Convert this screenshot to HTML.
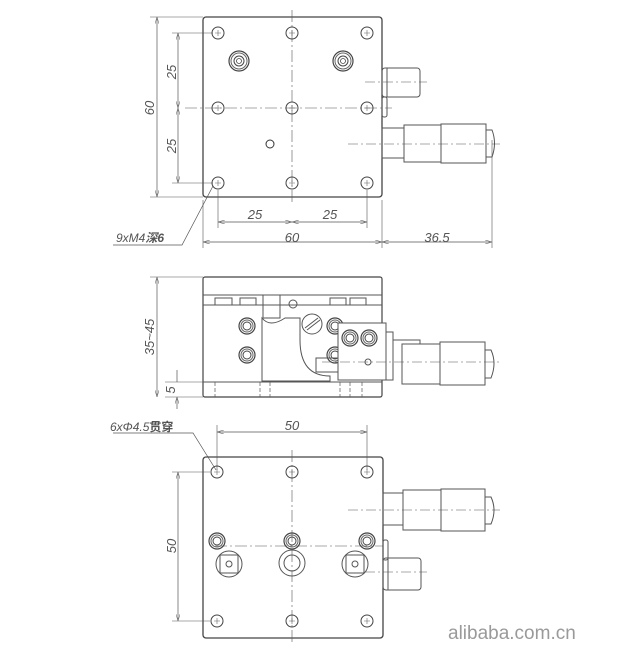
<!DOCTYPE html>
<html><head><meta charset="utf-8"><style>
html,body{margin:0;padding:0;background:#fff}
svg{display:block}
text{font-family:"Liberation Sans","Noto Sans CJK SC",sans-serif;font-style:italic;fill:#555}
</style></head><body>
<svg width="630" height="660" viewBox="0 0 630 660" xmlns="http://www.w3.org/2000/svg">
<defs>
<marker id="a" viewBox="0 0 10 6" refX="10" refY="3" markerWidth="10" markerHeight="6" orient="auto-start-reverse"><path d="M0,0L10,3L0,6" fill="none" stroke="#666" stroke-width="0.8"/></marker>
<g id="hole"><circle r="6" fill="none" stroke="#444" stroke-width="1"/><path d="M-3,0H3M0,-3V3" stroke="#666" stroke-width="0.6"/></g>
<g id="cb"><circle r="10" fill="none" stroke="#444" stroke-width="1.2"/><circle r="8" fill="none" stroke="#666" stroke-width="1"/><circle r="5" fill="none" stroke="#444" stroke-width="1"/><circle r="2.5" fill="none" stroke="#444" stroke-width="0.8"/></g>
<g id="scr"><circle r="8" fill="none" stroke="#444" stroke-width="1.2"/><circle r="6" fill="none" stroke="#666"/><circle r="4" fill="none" stroke="#444"/></g>
</defs>
<g fill="none" stroke="#555" stroke-width="1">
<rect x="203" y="17" width="179" height="180" rx="3" stroke="#444" stroke-width="1.3"/>
<path d="M292,10V205M185,108H392" stroke-dasharray="12,3,2,3" stroke-width="0.6"/>
<rect x="382" y="68" width="38" height="29" rx="3"/><path d="M387,68V97"/>
<path d="M365,82H427" stroke-dasharray="10,3,2,3" stroke-width="0.6"/>
<rect x="382" y="97" width="5" height="20" rx="2"/>
<rect x="382" y="128" width="22" height="30"/>
<rect x="404" y="125" width="37" height="37"/>
<rect x="441" y="124" width="45" height="39"/>
<path d="M486,130H492Q497,143 492,157H486Z"/>
<path d="M348,144H500" stroke-dasharray="10,3,2,3" stroke-width="0.6"/>
<circle cx="270" cy="144" r="4" stroke="#333"/>
<path d="M157,17V197" marker-start="url(#a)" marker-end="url(#a)" stroke-width="0.7"/>
<path d="M150,17H203M150,197H203M172,33H213M172,183H213" stroke-width="0.6"/>
<path d="M178,33V108" marker-start="url(#a)" marker-end="url(#a)" stroke-width="0.7"/>
<path d="M178,108V183" marker-start="url(#a)" marker-end="url(#a)" stroke-width="0.7"/>
<path d="M218,190V228M367,190V228M203,200V248M382,200V248M492,140V248" stroke-width="0.6"/>
<path d="M218,222H292" marker-start="url(#a)" marker-end="url(#a)" stroke-width="0.7"/>
<path d="M292,222H367" marker-start="url(#a)" marker-end="url(#a)" stroke-width="0.7"/>
<path d="M203,242H382" marker-start="url(#a)" marker-end="url(#a)" stroke-width="0.7"/>
<path d="M382,242H492" marker-start="url(#a)" marker-end="url(#a)" stroke-width="0.7"/>
<path d="M113,245H182L213,186" stroke-width="0.7"/>
<rect x="203" y="277" width="179" height="120" rx="2" stroke="#444" stroke-width="1.2"/>
<path d="M203,295H382M203,305H382M203,382H382"/>
<path d="M215,382V397M260,382V397M270,382V397M340,382V397M350,382V397M362,382V397" stroke-dasharray="4,2" stroke-width="0.7"/>
<path d="M215,305V298H232V305M240,305V298H256V305M330,305V298H346V305M350,305V298H366V305"/>
<path d="M263,295V318H280V295"/>
<circle cx="293" cy="304" r="4"/>
<path d="M262,318Q270,328 285,318L300,318V340Q300,376 330,376V381H262V330Z"/>
<circle cx="312" cy="324" r="10"/><path d="M305,328L318,318M307,330L320,320"/>
<use href="#scr" x="247" y="326"/><use href="#scr" x="247" y="355"/>
<use href="#scr" x="335" y="326"/><use href="#scr" x="335" y="355"/>
<rect x="338" y="323" width="48" height="57" fill="#fff"/>
<use href="#scr" x="350" y="338"/><use href="#scr" x="369" y="338"/>
<circle cx="368" cy="362" r="3"/>
<path d="M316,358H338V372H316Z"/>
<path d="M386,332H393V380H386M393,340H420V370"/>
<rect x="402" y="344" width="38" height="40" fill="#fff"/>
<rect x="440" y="342" width="45" height="43"/>
<path d="M485,350H491Q497,363 491,378H485Z"/>
<path d="M322,362H500" stroke-dasharray="10,3,2,3" stroke-width="0.6"/>
<path d="M157,277V397" marker-start="url(#a)" marker-end="url(#a)" stroke-width="0.7"/>
<path d="M150,277H203M165,382H203M165,397H203" stroke-width="0.6"/>
<path d="M177,370V382M177,409V397" marker-end="url(#a)" stroke-width="0.7"/>
<rect x="203" y="457" width="180" height="181" rx="3" stroke="#444" stroke-width="1.3"/>
<path d="M292,450V645M215,546H383" stroke-dasharray="12,3,2,3" stroke-width="0.6"/>
<rect x="383" y="493" width="20" height="32"/>
<rect x="403" y="490" width="38" height="40"/>
<rect x="441" y="489" width="44" height="42"/>
<path d="M485,497H491Q497,510 491,524H485Z"/>
<path d="M348,510H500" stroke-dasharray="10,3,2,3" stroke-width="0.6"/>
<rect x="383" y="540" width="5" height="20" rx="2"/>
<rect x="383" y="558" width="38" height="32" rx="3"/><path d="M388,558V590"/>
<path d="M365,572H427" stroke-dasharray="10,3,2,3" stroke-width="0.6"/>
<use href="#scr" x="217" y="541"/><use href="#scr" x="292" y="541"/><use href="#scr" x="367" y="541"/>
<circle cx="229" cy="564" r="13"/><rect x="220" y="555" width="18" height="18"/><circle cx="229" cy="564" r="3"/>
<circle cx="355" cy="564" r="13"/><rect x="346" y="555" width="18" height="18"/><circle cx="355" cy="564" r="3"/>
<circle cx="292" cy="563" r="13"/><circle cx="292" cy="563" r="8"/>
<path d="M217,425V470M367,425V470" stroke-width="0.6"/>
<path d="M217,432H367" marker-start="url(#a)" marker-end="url(#a)" stroke-width="0.7"/>
<path d="M172,472H210M172,621H210" stroke-width="0.6"/>
<path d="M178,472V621" marker-start="url(#a)" marker-end="url(#a)" stroke-width="0.7"/>
<path d="M113,433H193L216,470" stroke-width="0.7"/>
</g>
<g>
<use href="#hole" x="218" y="33"/><use href="#hole" x="292" y="33"/><use href="#hole" x="367" y="33"/>
<use href="#hole" x="218" y="108"/><use href="#hole" x="292" y="108"/><use href="#hole" x="367" y="108"/>
<use href="#hole" x="218" y="183"/><use href="#hole" x="292" y="183"/><use href="#hole" x="367" y="183"/>
<use href="#cb" x="239" y="61"/><use href="#cb" x="343" y="61"/>
<use href="#hole" x="217" y="472"/><use href="#hole" x="292" y="472"/><use href="#hole" x="367" y="472"/>
<use href="#hole" x="217" y="621"/><use href="#hole" x="292" y="621"/><use href="#hole" x="367" y="621"/>
</g>
<g font-size="13">
<text x="154" y="108" transform="rotate(-90 154 108)" text-anchor="middle">60</text>
<text x="176" y="72" transform="rotate(-90 176 72)" text-anchor="middle">25</text>
<text x="176" y="146" transform="rotate(-90 176 146)" text-anchor="middle">25</text>
<text x="255" y="219" text-anchor="middle">25</text>
<text x="330" y="219" text-anchor="middle">25</text>
<text x="292" y="242" text-anchor="middle">60</text>
<text x="437" y="242" text-anchor="middle">36.5</text>
<text x="116" y="242" font-size="12">9xM4<tspan font-weight="bold">深6</tspan></text>
<text x="154" y="337" transform="rotate(-90 154 337)" text-anchor="middle">35~45</text>
<text x="175" y="390" transform="rotate(-90 175 390)" text-anchor="middle">5</text>
<text x="110" y="431" font-size="12">6xΦ4.5<tspan font-weight="bold" font-style="normal">贯穿</tspan></text>
<text x="292" y="430" text-anchor="middle">50</text>
<text x="176" y="546" transform="rotate(-90 176 546)" text-anchor="middle">50</text>
</g>
<text x="448" y="639" font-size="19" style="font-style:normal;fill:#9a9a9a">alibaba.com.cn</text>
</svg>
</body></html>
